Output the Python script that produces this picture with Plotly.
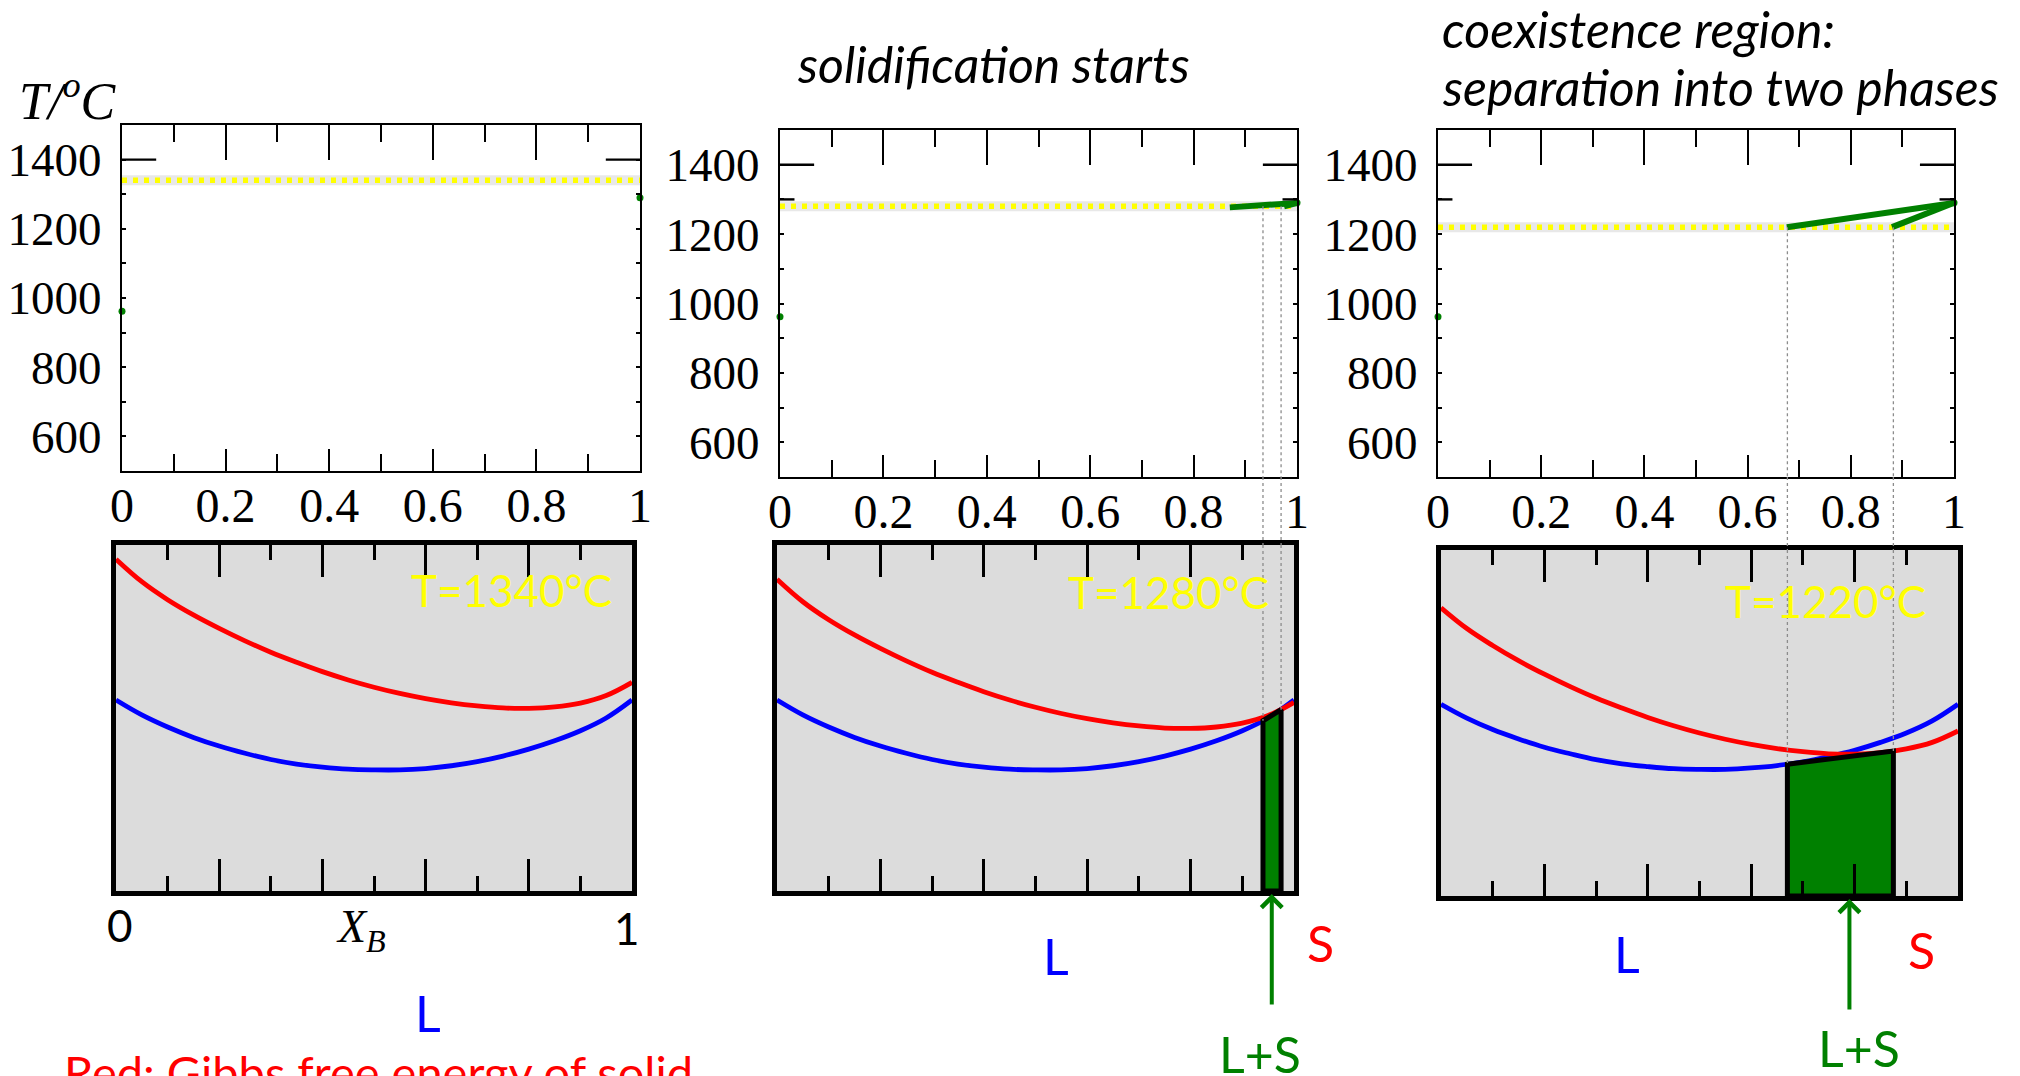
import plotly.graph_objects as go

W, H = 2020, 1076

# ---- data -------------------------------------------------------------
# composition grid for the Gibbs free-energy curves (mole fraction of B)
X_B = [0.0, 0.05, 0.1, 0.15, 0.2, 0.25, 0.3, 0.35, 0.4, 0.45, 0.5,
       0.55, 0.6, 0.65, 0.7, 0.75, 0.8, 0.85, 0.9, 0.95, 1.0]

# Gibbs free energy (arbitrary units) of solid (S) and liquid (L) at each stage
G_SOLID_1340 = [0.959, 0.894, 0.842, 0.798, 0.759, 0.723, 0.690, 0.661, 0.634, 0.610, 0.589,
                0.571, 0.556, 0.544, 0.535, 0.529, 0.528, 0.532, 0.543, 0.565, 0.603]
G_LIQUID_1340 = [0.552, 0.509, 0.474, 0.444, 0.419, 0.398, 0.380, 0.367, 0.358, 0.352, 0.350,
                 0.350, 0.354, 0.362, 0.374, 0.390, 0.410, 0.434, 0.463, 0.500, 0.552]
G_SOLID_1280 = [0.901, 0.836, 0.784, 0.740, 0.701, 0.665, 0.632, 0.603, 0.576, 0.552, 0.531,
                0.513, 0.498, 0.486, 0.477, 0.471, 0.470, 0.474, 0.485, 0.507, 0.545]
G_LIQUID_1280 = [0.552, 0.509, 0.474, 0.444, 0.419, 0.398, 0.380, 0.367, 0.358, 0.352, 0.350,
                 0.350, 0.354, 0.362, 0.374, 0.390, 0.410, 0.434, 0.463, 0.500, 0.552]
G_SOLID_1220 = [0.833, 0.773, 0.724, 0.680, 0.641, 0.605, 0.572, 0.543, 0.516, 0.492, 0.471,
                0.453, 0.438, 0.426, 0.417, 0.411, 0.410, 0.414, 0.425, 0.444, 0.477]
G_LIQUID_1220 = [0.554, 0.514, 0.481, 0.454, 0.430, 0.411, 0.394, 0.382, 0.374, 0.368, 0.366,
                 0.366, 0.370, 0.377, 0.388, 0.403, 0.421, 0.444, 0.471, 0.506, 0.554]

TEMPS = [1340, 1280, 1220]          # temperature of each stage, deg C
T_MELT_A = 962                      # melting point of pure A
T_MELT_B = 1290                     # melting point of pure B

# common tangent: compositions and energies of the coexisting L and S
TANGENT_X = [None, [0.94, 0.975], [0.67, 0.875]]
TANGENT_G = [None, [0.492, 0.524], [0.381, 0.419]]

# liquidus / solidus branches traced down to the current temperature
LIQUIDUS_X = [None, [0.87, 1.0], [0.676, 1.0]]
LIQUIDUS_T = [None, [1277, 1290], [1220, 1290]]
SOLIDUS_X = [None, [0.975, 1.0], [0.88, 1.0]]
SOLIDUS_T = [None, [1280, 1290], [1220, 1290]]

# overall composition pointed at by the arrow
ARROW_X = [None, 0.957, 0.79]

X_TICKS = [0, 0.2, 0.4, 0.6, 0.8, 1]
X_TICK_TEXT = ["0", "0.2", "0.4", "0.6", "0.8", "1"]
X_MINOR = [0.1, 0.3, 0.5, 0.7, 0.9]
T_TICKS = [600, 800, 1000, 1200, 1400]
T_TICK_TEXT = ["600", "800", "1000", "1200", "1400"]
T_MINOR = [700, 900, 1100, 1300]

G_SOLID = [G_SOLID_1340, G_SOLID_1280, G_SOLID_1220]
G_LIQUID = [G_LIQUID_1340, G_LIQUID_1280, G_LIQUID_1220]

# ---- layout geometry (pixels: left, right, top, bottom) ---------------
TOP_BOX = [(122, 640, 125, 471), (780, 1297, 130, 477), (1438, 1954, 130, 477)]
BOT_BOX = [(116, 632, 545, 891), (777, 1294, 545, 891), (1441, 1958, 550, 896)]

SERIF = "Liberation Serif, Times New Roman, serif"
SANS = "Lato, Calibri, sans-serif"
GREEN = "#008000"
YELLOW = "#ffff00"


def fx(px):
    return px / W


def fy(py):
    return 1 - py / H


def sfx(n):
    return "" if n == 1 else str(n)


fig = go.Figure()
layout = dict(
    width=W, height=H, autosize=False,
    margin=dict(l=0, r=0, t=0, b=0, pad=0, autoexpand=False),
    paper_bgcolor="white", plot_bgcolor="rgba(0,0,0,0)",
    showlegend=False,
)
shapes = []
annotations = []

for i in range(3):
    # ---------- phase diagram (top) ----------
    n = i + 1
    l, r, t, b = TOP_BOX[i]
    xa, ya = f"x{sfx(n)}", f"y{sfx(n)}"
    layout[f"xaxis{sfx(n)}"] = dict(
        domain=[fx(l), fx(r)], range=[0, 1], anchor=ya, automargin=False,
        showline=True, linewidth=2.4, linecolor="black", mirror=True,
        ticks="inside", ticklen=22, tickwidth=2, tickcolor="black",
        tickvals=X_TICKS, ticktext=X_TICK_TEXT,
        minor=dict(tickvals=X_MINOR, ticks="inside", ticklen=17, tickwidth=2, tickcolor="black"),
        tickfont=dict(family=SERIF, size=48, color="black"),
        ticklabelstandoff=-9,
        showgrid=False, zeroline=False, fixedrange=True,
    )
    layout[f"yaxis{sfx(n)}"] = dict(
        domain=[fy(b), fy(t)], range=[500, 1500], anchor=xa, automargin=False,
        showline=True, linewidth=2.4, linecolor="black", mirror="ticks",
        ticks="inside", ticklen=4, tickwidth=2, tickcolor="black",
        tickvals=T_TICKS, ticktext=T_TICK_TEXT,
        minor=dict(tickvals=T_MINOR, ticks="inside", ticklen=4, tickwidth=2, tickcolor="black"),
        tickfont=dict(family=SERIF, size=47, color="black"),
        ticklabelstandoff=9,
        showgrid=False, zeroline=False, fixedrange=True,
    )
    # top-edge ticks (longer than the bottom ones)
    ov = 7 + i
    layout[f"xaxis{ov}"] = dict(
        range=[0, 1], overlaying=xa, anchor=ya, side="top", automargin=False,
        ticks="inside", ticklen=35, tickwidth=2, tickcolor="black",
        tickvals=X_TICKS, showticklabels=False,
        minor=dict(tickvals=X_MINOR, ticks="inside", ticklen=17, tickwidth=2, tickcolor="black"),
        showline=False, showgrid=False, zeroline=False, fixedrange=True,
    )
    fig.add_trace(go.Scatter(x=[], y=[], xaxis=f"x{ov}", yaxis=ya, hoverinfo="skip"))

    # long ticks at 1400 (and 1300 once solidification has begun)
    long_ticks = [(1400, 0.066)] + ([(1300, 0.028)] if i > 0 else [])
    for tv, ln in long_ticks:
        for x0, x1 in [(0, ln), (1 - ln, 1)]:
            shapes.append(dict(type="line", xref=f"{xa} domain", yref=ya, x0=x0, x1=x1,
                               y0=tv, y1=tv, line=dict(color="black", width=2.4)))

    T = TEMPS[i]
    # soft grey halo under the isotherm, then the dotted isotherm itself
    fig.add_trace(go.Scatter(
        x=[0, 1], y=[T, T], xaxis=xa, yaxis=ya, mode="lines",
        line=dict(color="rgba(110,110,110,0.16)", width=10), hoverinfo="skip"))
    fig.add_trace(go.Scatter(
        x=[0, 1], y=[T, T], xaxis=xa, yaxis=ya, mode="lines",
        line=dict(color=YELLOW, width=5.5, dash="5px,6px"), hoverinfo="skip"))
    if LIQUIDUS_X[i] is not None:
        for xs, ts in [(LIQUIDUS_X[i], LIQUIDUS_T[i]), (SOLIDUS_X[i], SOLIDUS_T[i])]:
            fig.add_trace(go.Scatter(
                x=xs, y=ts, xaxis=xa, yaxis=ya, mode="lines",
                line=dict(color=GREEN, width=6), cliponaxis=False, hoverinfo="skip"))
    fig.add_trace(go.Scatter(
        x=[0, 1], y=[T_MELT_A, T_MELT_B], xaxis=xa, yaxis=ya, mode="markers",
        marker=dict(color=GREEN, size=7), cliponaxis=False, hoverinfo="skip"))

    # ---------- Gibbs free energy (bottom) ----------
    m = n + 3
    l, r, t, b = BOT_BOX[i]
    xb, yb = f"x{m}", f"y{m}"
    layout[f"xaxis{m}"] = dict(
        domain=[fx(l), fx(r)], range=[0, 1], anchor=yb, automargin=False,
        showline=True, linewidth=5, linecolor="black", mirror="ticks",
        ticks="inside", ticklen=32, tickwidth=2.5, tickcolor="black",
        tickvals=[0.2, 0.4, 0.6, 0.8], showticklabels=False,
        minor=dict(tickvals=X_MINOR, ticks="inside", ticklen=15, tickwidth=2.5, tickcolor="black"),
        showgrid=False, zeroline=False, fixedrange=True,
    )
    layout[f"yaxis{m}"] = dict(
        domain=[fy(b), fy(t)], range=[0, 1], anchor=xb, automargin=False,
        showline=True, linewidth=5, linecolor="black", mirror=True,
        ticks="", showticklabels=False,
        showgrid=False, zeroline=False, fixedrange=True,
    )
    shapes.append(dict(type="rect", xref=f"{xb} domain", yref=f"{yb} domain",
                       x0=0, x1=1, y0=0, y1=1, fillcolor="#dcdcdc",
                       line=dict(width=0), layer="below"))

    fig.add_trace(go.Scatter(
        x=X_B, y=G_LIQUID[i], xaxis=xb, yaxis=yb, mode="lines",
        line=dict(color="#0000ff", width=4.8, shape="spline", smoothing=1.1), hoverinfo="skip"))
    fig.add_trace(go.Scatter(
        x=X_B, y=G_SOLID[i], xaxis=xb, yaxis=yb, mode="lines",
        line=dict(color="#ff0000", width=4.8, shape="spline", smoothing=1.1), hoverinfo="skip"))

    if TANGENT_X[i] is not None:
        (xl, xr), (gl, gr) = TANGENT_X[i], TANGENT_G[i]
        fig.add_trace(go.Scatter(
            x=[xl, xl, xr, xr, xl], y=[0, gl, gr, 0, 0], xaxis=xb, yaxis=yb,
            mode="lines", fill="toself", fillcolor=GREEN,
            line=dict(color="black", width=5), hoverinfo="skip"))
        # dotted guides from the tie line down to the tangent points
        ttop, tbot = TOP_BOX[i][3], BOT_BOX[i][2]
        for xv, gv in zip(TANGENT_X[i], TANGENT_G[i]):
            dl = dict(color="#8c8c8c", width=1.3, dash="dot")
            shapes.append(dict(type="line", xref=xb, yref=ya, x0=xv, x1=xv, y0=T, y1=500,
                               line=dl, layer="above"))
            shapes.append(dict(type="line", xref=xb, yref="paper", x0=xv, x1=xv,
                               y0=fy(ttop), y1=fy(tbot), line=dl, layer="above"))
            shapes.append(dict(type="line", xref=xb, yref=yb, x0=xv, x1=xv, y0=1, y1=gv,
                               line=dl, layer="above"))
        annotations.append(dict(
            xref=xb, yref="paper", x=ARROW_X[i], y=fy(b + 3), ax=0, ay=112,
            text="", showarrow=True, arrowhead=4, arrowsize=1, arrowwidth=4,
            arrowcolor=GREEN, standoff=0))

    # temperature label
    annotations.append(dict(
        xref="paper", yref="paper", x=fx([511, 1168, 1825][i]), y=fy([590, 592, 601][i]),
        text=f"T={T}°C", showarrow=False, xanchor="center", yanchor="middle",
        font=dict(family=SANS, size=44, color=YELLOW)))


def text(t, xp, yp, size, color, family=SANS, xanchor="center", yanchor="middle"):
    annotations.append(dict(xref="paper", yref="paper", x=fx(xp), y=fy(yp), text=t,
                            showarrow=False, xanchor=xanchor, yanchor=yanchor,
                            font=dict(family=family, size=size, color=color)))


text("<i>T/<sup>o</sup>C</i>", 68, 97, 52, "black", family=SERIF)
text("<i>solidification starts</i>", 993, 64, 50, "black")
text("<i>coexistence region:</i>", 1440, 29, 50, "black", xanchor="left")
text("<i>separation into two phases</i>", 1440, 87, 50, "black", xanchor="left")

text("0", 120, 925, 44, "black")
text("<i>X<sub>B</sub></i>", 361, 930, 46, "black", family=SERIF)
text("1", 627, 928, 44, "black")

text("L", 428, 1013, 50, "#0000ff")
text("L", 1056, 956, 50, "#0000ff")
text("S", 1320, 943, 50, "#ff0000")
text("L+S", 1260, 1054, 50, GREEN)
text("L", 1627, 954, 50, "#0000ff")
text("S", 1921, 950, 50, "#ff0000")
text("L+S", 1859, 1048, 50, GREEN)

text("Red: Gibbs free energy of solid", 62, 1042, 47, "#ff0000", xanchor="left", yanchor="top")

layout["shapes"] = shapes
layout["annotations"] = annotations
fig.update_layout(**layout)
fig.write_html("out.html")
